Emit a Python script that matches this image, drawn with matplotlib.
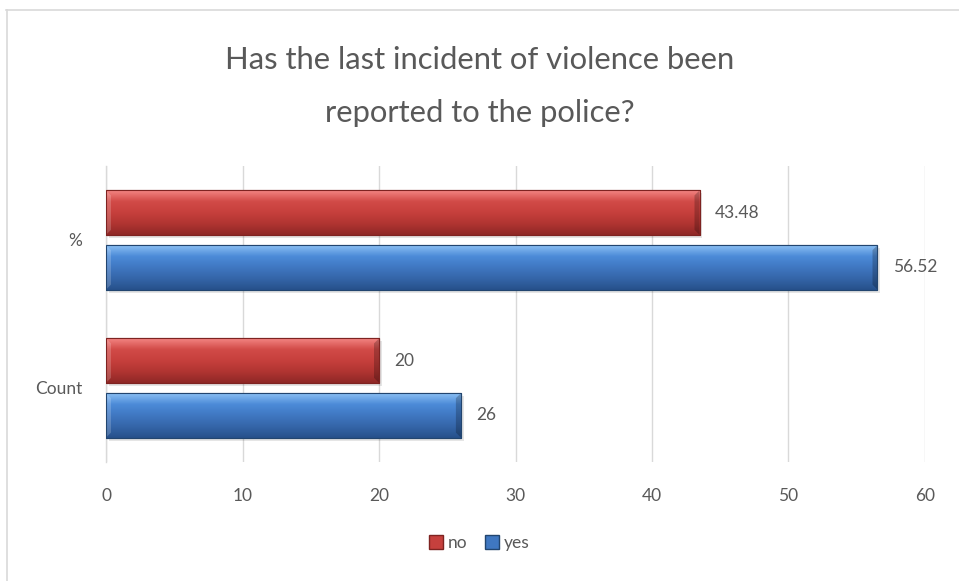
import numpy as np
import matplotlib
matplotlib.use("Agg")
import matplotlib.pyplot as plt
from matplotlib.lines import Line2D
from matplotlib.patches import Patch
from matplotlib.colors import LinearSegmentedColormap

plt.rcParams['font.family'] = ['Lato', 'DejaVu Sans']

# Data
categories = ["Count", "%"]
series_names = ["no", "yes"]
no_values = [20, 43.48]
yes_values = [26, 56.52]
value_labels_no = ["20", "43.48"]
value_labels_yes = ["26", "56.52"]
x_ticks = [0, 10, 20, 30, 40, 50, 60]

TEXT = "#595959"
GRID = "#D9D9D9"
RED_STOPS = ["#F48684", "#D24B48", "#C6403D", "#B03431", "#8E2826"]
BLUE_STOPS = ["#8CC0F4", "#4C8BD8", "#3F77C1", "#3465A8", "#26508A"]

W, H, DPI = 959, 581, 100
fig = plt.figure(figsize=(W / DPI, H / DPI), dpi=DPI)
fig.patch.set_facecolor("white")

ax = fig.add_axes([106 / W, 1 - 462 / H, (925 - 106) / W, (462 - 166) / H])
ax.set_xlim(0, 60)
ax.set_ylim(-0.5, 1.5)

y = np.arange(len(categories))
bar_h = 0.30
off = 0.185

# bevel size in data units (x per pixel = 60/819, y per pixel = 2/296)
BX = 5 * 60 / 819
BY = 5 * 2 / 296


def shaded_bars(values, ypos, stops, edge):
    # soft drop shadow under each bar
    ax.barh(ypos - 0.02, values, height=bar_h, left=0.2, color="#000000",
            alpha=0.10, zorder=2, linewidth=0)
    bars = ax.barh(ypos, values, height=bar_h, color=stops[2],
                   edgecolor=edge, linewidth=0.8, zorder=3)
    cmap = LinearSegmentedColormap.from_list("grad", stops)
    grad = np.linspace(0, 1, 256).reshape(-1, 1)
    for b in bars:
        x0, y0 = b.get_x(), b.get_y()
        w, h = b.get_width(), b.get_height()
        im = ax.imshow(grad, cmap=cmap, aspect="auto", origin="upper",
                       extent=(x0, x0 + w, y0, y0 + h), zorder=3.5,
                       interpolation="bilinear")
        im.set_clip_path(b)
        # darker right bevel
        ax.fill([x0 + w - BX, x0 + w, x0 + w, x0 + w - BX],
                [y0 + h - BY, y0 + h, y0, y0 + BY],
                color="#000000", alpha=0.22, zorder=3.6, linewidth=0)
        # lighter left bevel
        ax.fill([x0, x0 + BX, x0 + BX, x0],
                [y0 + h, y0 + h - BY, y0 + BY, y0],
                color="#FFFFFF", alpha=0.18, zorder=3.6, linewidth=0)
        ax.add_patch(plt.Rectangle((x0, y0), w, h, fill=False,
                                   edgecolor=edge, linewidth=0.8, zorder=3.7))
    return bars


shaded_bars(no_values, y + off, RED_STOPS, "#7E2321")
shaded_bars(yes_values, y - off, BLUE_STOPS, "#22456F")

for v, lab, yy in zip(no_values, value_labels_no, y + off):
    ax.annotate(lab, (v, yy), xytext=(11, 0), textcoords="offset points",
                va="center", ha="left", fontsize=12.5, color=TEXT)
for v, lab, yy in zip(yes_values, value_labels_yes, y - off):
    ax.annotate(lab, (v, yy), xytext=(11, 0), textcoords="offset points",
                va="center", ha="left", fontsize=12.5, color=TEXT)

ax.set_xticks(x_ticks)
ax.set_xticklabels([str(t) for t in x_ticks])
ax.set_yticks(y)
ax.set_yticklabels(categories)
ax.tick_params(axis="both", length=0, labelsize=12.5, labelcolor=TEXT)
ax.tick_params(axis="x", pad=19)
ax.tick_params(axis="y", pad=17)
ax.xaxis.grid(True, color=GRID, linewidth=1.0, zorder=0)
ax.set_axisbelow(True)
for s in ["top", "right", "bottom"]:
    ax.spines[s].set_visible(False)
ax.spines["left"].set_color(GRID)
ax.spines["left"].set_linewidth(1.0)

fig.text(0.5, 1 - 60 / H, "Has the last incident of violence been",
         ha="center", va="center", fontsize=22.3, color=TEXT)
fig.text(0.5, 1 - 113 / H, "reported to the police?",
         ha="center", va="center", fontsize=22.3, color=TEXT)

handles = [Patch(facecolor=RED_STOPS[2], edgecolor="#7E2321"),
           Patch(facecolor=BLUE_STOPS[2], edgecolor="#22456F")]
fig.legend(handles, series_names, loc="center", ncol=2,
           bbox_to_anchor=(0.5, 1 - 543 / H), frameon=False, fontsize=12.5,
           labelcolor=TEXT, handlelength=0.8, handleheight=0.8,
           handletextpad=0.3, columnspacing=1.0)

# chart frame
fig.add_artist(Line2D([6 / W, 1.0], [1 - 9.5 / H, 1 - 9.5 / H],
                      transform=fig.transFigure, color=GRID, linewidth=1.2))
fig.add_artist(Line2D([6.5 / W, 6.5 / W], [0.0, 1 - 9.5 / H],
                      transform=fig.transFigure, color=GRID, linewidth=1.2))

fig.savefig("out.png", dpi=DPI, facecolor="white")
